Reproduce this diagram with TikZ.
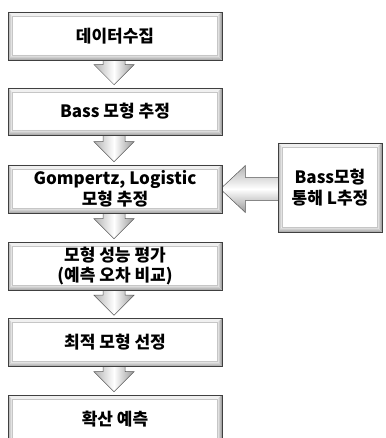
\documentclass[tikz,border=0pt]{standalone}
\usepackage{fontspec}
\setmainfont{Noto Sans CJK KR}
\usetikzlibrary{calc,backgrounds}
\tikzset{
  bevel/.style={inner sep=0pt, fill=white, draw=black!75, line width=0.7pt, align=center,
    font=\bfseries\fontsize{17}{20.5}\selectfont,
    path picture={
      \path (path picture bounding box.north west) coordinate (pA)
            (path picture bounding box.north east) coordinate (pB)
            (path picture bounding box.south east) coordinate (pC)
            (path picture bounding box.south west) coordinate (pD);
      \path ($(pA)+(4pt,-4pt)$) coordinate (qA) ($(pB)+(-5pt,-4pt)$) coordinate (qB)
            ($(pC)+(-5pt,5pt)$) coordinate (qC) ($(pD)+(4pt,5pt)$) coordinate (qD);
      \fill[gray!12] (pA)--(pB)--(qB)--(qA)--cycle;
      \shade[left color=gray!65, right color=gray!8] (pA)--(qA)--(qD)--(pD)--cycle;
      \shade[left color=gray!8, right color=gray!85] (pB)--(pC)--(qC)--(qB)--cycle;
      \shade[top color=gray!15, bottom color=gray!75] (pD)--(qD)--(qC)--(pC)--cycle;
      \draw[gray!45, line width=0.4pt] (qA) rectangle (qC);
    }},
  stepbox/.style={bevel, minimum width=214pt, minimum height=48pt},
  sidebox/.style={bevel, minimum width=104pt, minimum height=89pt},
  varrow/.style={draw=black!65, line width=0.5pt, left color=gray!60, right color=gray!80, middle color=white, line join=miter},
  harrow/.style={draw=black!65, line width=0.5pt, top color=gray!60, bottom color=gray!80, middle color=white, line join=miter}
}
\newcommand\dnarr[2]{%
  \shadedraw[varrow] ($(#1.south)+(-12pt,3pt)$) -- ($(#2.north)+(-12pt,23pt)$) -- ($(#2.north)+(-21pt,23pt)$)
    -- ($(#2.north)+(-1pt,3pt)$) -- ($(#2.north)+(19pt,23pt)$) -- ($(#2.north)+(10pt,23pt)$)
    -- ($(#1.south)+(10pt,3pt)$);}
\begin{document}
\begin{tikzpicture}[x=1pt,y=-1pt]
\useasboundingbox (0,0) rectangle (385,438);
\node[stepbox] (n1) at (115,36) {데이터수집};
\node[stepbox, minimum height=47pt] (n2) at (115,111.5) {Bass 모형 추정};
\node[stepbox] (n3) at (115,189) {Gompertz, Logistic\\모형 추정};
\node[stepbox] (n4) at (115,266) {모형 성능 평가\\(예측 오차 비교)};
\node[stepbox] (n5) at (115,342.5) {최적 모형 선정};
\node[stepbox] (n6) at (115,419) {확산 예측};
\node[sidebox] (r) at (330,187.5) {Bass모형\\통해 L추정};
\begin{scope}[on background layer]
\fill[white] (0,0) rectangle (385,438);
\dnarr{n1}{n2}
\dnarr{n2}{n3}
\dnarr{n3}{n4}
\dnarr{n4}{n5}
\dnarr{n5}{n6}
\shadedraw[harrow] ($(n3.east -| r.west)+(3pt,11.5pt)$) -- ($(n3.east)+(23pt,11.5pt)$) -- ($(n3.east)+(23pt,23.5pt)$)
  -- ($(n3.east)+(-2pt,0pt)$) -- ($(n3.east)+(23pt,-23.5pt)$) -- ($(n3.east)+(23pt,-11.5pt)$)
  -- ($(n3.east -| r.west)+(3pt,-11.5pt)$);
\end{scope}
\end{tikzpicture}
\end{document}
